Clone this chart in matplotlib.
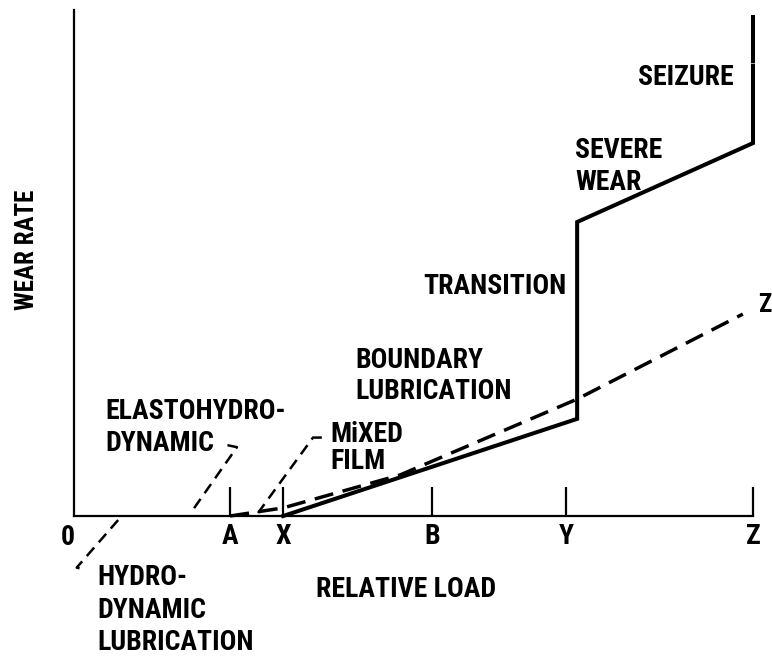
import matplotlib
matplotlib.use("Agg")
import matplotlib.pyplot as plt

plt.rcParams['font.family'] = ['Roboto Condensed', 'DejaVu Sans']
plt.rcParams['font.weight'] = 'bold'

# ---- data (arbitrary schematic units, x: relative load, y: wear rate) ----
tick_labels = ['A', 'X', 'B', 'Y', 'Z']
tick_pos = [2.30, 3.08, 5.27, 7.25, 10.0]

# solid curve: mixed film -> boundary -> transition -> severe wear -> seizure
solid_x = [3.08, 7.41, 7.41, 10.0, 10.0]
solid_y = [0.00, 1.92, 5.81, 7.37, 8.90]
seizure_top_x = [10.0, 10.0]
seizure_top_y = [9.00, 9.86]

# dashed curve ending at Z
dash_x = [2.30, 3.08, 4.80, 7.41, 9.85]
dash_y = [0.00, 0.16, 0.81, 2.31, 3.99]

# leader lines for annotations
ehd_x = [2.26, 2.40, 1.75]
ehd_y = [1.40, 1.36, 0.12]
mix_x = [3.65, 3.52, 2.71]
mix_y = [1.55, 1.55, 0.06]
hyd_x = [0.65, 0.04, 0.16]
hyd_y = [-0.08, -1.02, -1.06]

fig = plt.figure(figsize=(7.72, 6.56), dpi=100)
W, H = 772, 656
ax = fig.add_axes([74 / W, (H - 516) / H, 679 / W, 506 / H])
ax.set_xlim(0, 10)
ax.set_ylim(0, 10)
for s in ['top', 'right']:
    ax.spines[s].set_visible(False)
for s in ['left', 'bottom']:
    ax.spines[s].set_linewidth(1.6)
ax.set_yticks([])
ax.set_xticks(tick_pos)
ax.set_xticklabels(tick_labels, fontsize=20, fontweight='bold')
ax.tick_params(axis='x', direction='in', length=21, width=1.6, pad=5)

ax.plot(solid_x, solid_y, color='black', lw=2.9, solid_joinstyle='miter', clip_on=False)
ax.plot(seizure_top_x, seizure_top_y, color='black', lw=2.9, clip_on=False)
ax.plot(dash_x, dash_y, color='black', lw=2.5, dashes=(5.5, 2.8), clip_on=False)
for lx, ly in [(ehd_x, ehd_y), (mix_x, mix_y), (hyd_x, hyd_y)]:
    ax.plot(lx, ly, color='black', lw=1.8, dashes=(4.5, 2.8), clip_on=False)

fs = 20
def T(x, y, s, ls=1.2, **kw):
    kw.setdefault('ha', 'left')
    kw.setdefault('va', 'center')
    ax.text(x, y, s, fontsize=kw.pop('size', fs), fontweight='bold', linespacing=ls,
            clip_on=False, **kw)

T(-0.09, -0.43, '0', ha='center')
T(0.34, -1.86, 'HYDRO-\nDYNAMIC\nLUBRICATION', ls=1.25)
T(4.89, -1.45, 'RELATIVE LOAD', ha='center')
T(0.46, 1.75, 'ELASTOHYDRO-\nDYNAMIC', ls=1.2)
T(3.77, 1.34, 'MiXED\nFILM', ls=1.0)
T(4.14, 2.76, 'BOUNDARY\nLUBRICATION', ls=1.2)
T(7.26, 4.53, 'TRANSITION', ha='right')
T(7.38, 6.90, 'SEVERE\nWEAR', ls=1.25)
T(8.31, 8.67, 'SEIZURE')
T(10.07, 4.17, 'Z', size=18)
ax.text(-0.69, 5.26, 'WEAR RATE', fontsize=18, fontweight='bold', rotation=90,
        ha='center', va='center', clip_on=False)

fig.savefig('out.png', dpi=100)
